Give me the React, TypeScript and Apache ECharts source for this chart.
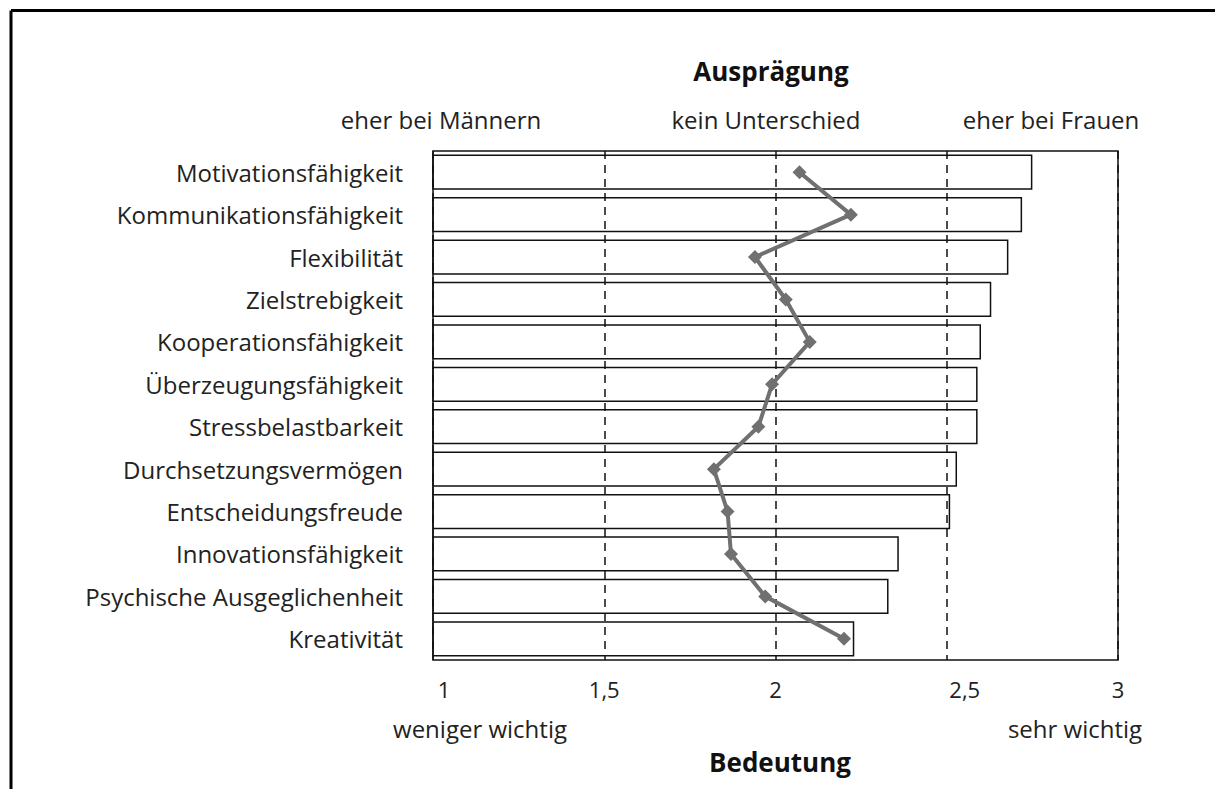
import React, { useEffect, useRef } from "react";
import * as echarts from "echarts";

const categories = [
  "Motivationsfähigkeit",
  "Kommunikationsfähigkeit",
  "Flexibilität",
  "Zielstrebigkeit",
  "Kooperationsfähigkeit",
  "Überzeugungsfähigkeit",
  "Stressbelastbarkeit",
  "Durchsetzungsvermögen",
  "Entscheidungsfreude",
  "Innovationsfähigkeit",
  "Psychische Ausgeglichenheit",
  "Kreativität",
];

// Bedeutung (bars)
const importance = [2.75, 2.72, 2.68, 2.63, 2.6, 2.59, 2.59, 2.53, 2.51, 2.36, 2.33, 2.23];
// Ausprägung (line)
const expression = [2.07, 2.22, 1.94, 2.03, 2.1, 1.99, 1.95, 1.82, 1.86, 1.87, 1.97, 2.2];

const tickLabels: Record<string, string> = {
  "1": "{a|1}",
  "1.5": "1,5",
  "2": "2",
  "2.5": "{b|2,5}",
  "3": "3",
};

const FONT = "'Open Sans', Lato, sans-serif";
const TXT = "#222";
const FS = 24;

export default function App() {
  const ref = useRef<HTMLDivElement>(null);
  useEffect(() => {
    if (!ref.current) return;
    const chart = echarts.init(ref.current, undefined, { renderer: "svg" });
    chart.setOption({
      animation: false,
      backgroundColor: "#fff",
      textStyle: { fontFamily: FONT, color: TXT },
      grid: { left: 433, top: 151, width: 685, height: 509, show: true, borderColor: "#111", borderWidth: 1.5 },
      xAxis: {
        type: "value",
        min: 1,
        max: 3,
        interval: 0.5,
        axisLine: { show: false },
        axisTick: { show: false },
        splitLine: { show: true, lineStyle: { color: "#111", width: 1.5, type: [8, 6] } },
        axisLabel: {
          margin: 18,
          fontSize: 22,
          color: TXT,
          fontFamily: FONT,
          formatter: (v: number) => tickLabels[String(v)] ?? String(v),
          rich: {
            a: { fontSize: 22, color: TXT, fontFamily: FONT, padding: [0, 0, 0, 22] },
            b: { fontSize: 22, color: TXT, fontFamily: FONT, padding: [0, 0, 0, 36] },
          },
        },
      },
      yAxis: {
        type: "category",
        data: categories,
        inverse: true,
        axisLine: { show: false },
        axisTick: { show: false },
        axisLabel: { margin: 30, fontSize: FS, color: TXT, fontFamily: FONT },
      },
      series: [
        {
          type: "bar",
          data: importance,
          clip: true,
          barCategoryGap: "17%",
          itemStyle: { color: "rgba(255,255,255,0)", borderColor: "#111", borderWidth: 1.5 },
          z: 2,
        },
        {
          type: "line",
          data: expression,
          symbol: "diamond",
          symbolSize: 14,
          lineStyle: { color: "#707070", width: 4 },
          itemStyle: { color: "#707070" },
          z: 3,
        },
      ],
      graphic: [
        { type: "line", shape: { x1: 11, y1: 10.5, x2: 1215, y2: 10.5 }, style: { stroke: "#000", lineWidth: 3 } },
        { type: "line", shape: { x1: 11, y1: 10.5, x2: 11, y2: 789 }, style: { stroke: "#000", lineWidth: 3 } },
        { type: "text", x: 771, y: 71, style: { text: "Ausprägung", font: `bold 26px ${FONT}`, fill: "#111", align: "center", verticalAlign: "middle" } },
        { type: "text", x: 441, y: 119, style: { text: "eher bei Männern", font: `${FS}px ${FONT}`, fill: TXT, align: "center", verticalAlign: "middle" } },
        { type: "text", x: 766, y: 119, style: { text: "kein Unterschied", font: `${FS}px ${FONT}`, fill: TXT, align: "center", verticalAlign: "middle" } },
        { type: "text", x: 1051, y: 119, style: { text: "eher bei Frauen", font: `${FS}px ${FONT}`, fill: TXT, align: "center", verticalAlign: "middle" } },
        { type: "text", x: 480, y: 728, style: { text: "weniger wichtig", font: `${FS}px ${FONT}`, fill: TXT, align: "center", verticalAlign: "middle" } },
        { type: "text", x: 1075, y: 728, style: { text: "sehr wichtig", font: `${FS}px ${FONT}`, fill: TXT, align: "center", verticalAlign: "middle" } },
        { type: "text", x: 780, y: 762, style: { text: "Bedeutung", font: `bold 26px ${FONT}`, fill: "#111", align: "center", verticalAlign: "middle" } },
      ],
    });
    return () => chart.dispose();
  }, []);
  return <div ref={ref} style={{ position: "fixed", left: 0, top: 0, width: 1215, height: 789 }} />;
}
